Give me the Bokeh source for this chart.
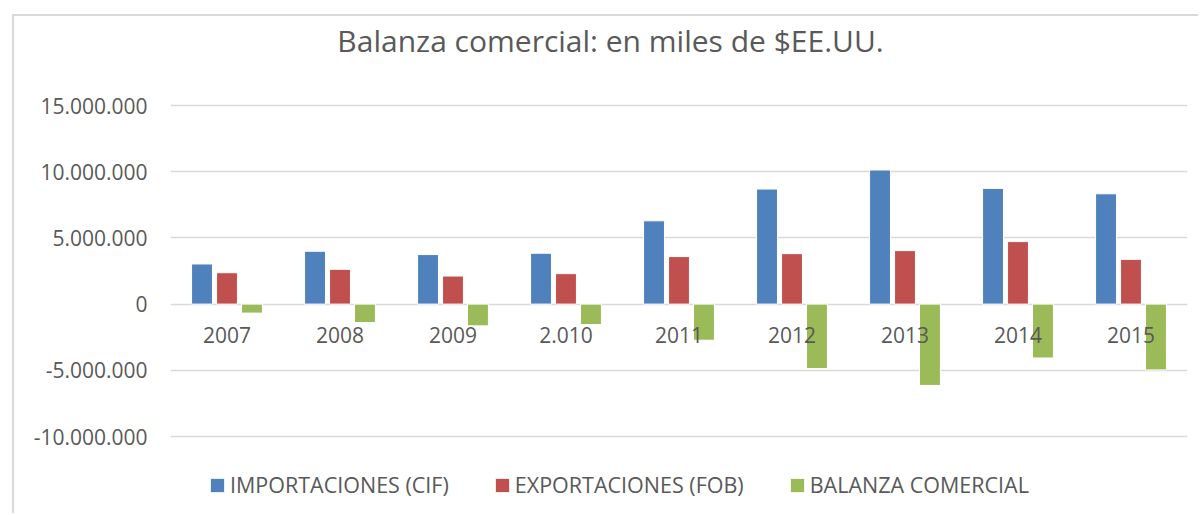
from bokeh.plotting import figure
from bokeh.models import FactorRange, Range1d, Legend, LegendItem, FixedTicker, ColumnDataSource, Label
from bokeh.core.properties import value
from bokeh.transform import dodge
from bokeh.embed import file_html
from bokeh.resources import INLINE

years = ["2007", "2008", "2009", "2.010", "2011", "2012", "2013", "2014", "2015"]
importaciones = [3030000, 3990000, 3740000, 3840000, 6290000, 8690000, 10130000, 8740000, 8330000]
exportaciones = [2370000, 2630000, 2120000, 2300000, 3590000, 3810000, 4040000, 4720000, 3380000]
balanza = [-680000, -1390000, -1640000, -1540000, -2730000, -4870000, -6140000, -4070000, -4970000]
series_names = ["IMPORTACIONES (CIF)", "EXPORTACIONES (FOB)", "BALANZA COMERCIAL"]
series_colors = ["#4F81BD", "#C0504D", "#9BBB59"]
y_ticks = [-10000000, -5000000, 0, 5000000, 10000000, 15000000]
y_tick_labels = ["-10.000.000", "-5.000.000", "0", "5.000.000", "10.000.000", "15.000.000"]
title_text = "Balanza comercial: en miles de $EE.UU."

FONT = "Open Sans"
TXT = "#595959"

# layout (pixels)
W, H = 1186, 499
LEFT, RIGHT = 156, 13
TOP = 89            # canvas y of the top (15M) gridline
AXIS_PX = 331       # pixels from top tick to bottom tick
TITLE_Y = 24        # canvas y of title centre
TITLE_X = 596       # canvas x of title centre
span = y_ticks[-1] - y_ticks[0]
per_px = span / AXIS_PX
# frame covers the whole canvas height so title and legend can sit inside it
y_end = y_ticks[-1] + TOP * per_px
y_start = y_ticks[0] - (H - TOP - AXIS_PX) * per_px
frame_w = W - LEFT - RIGHT
title_xdata = (TITLE_X - LEFT) / frame_w * len(years)
title_ydata = y_end - TITLE_Y * per_px

p = figure(x_range=FactorRange(*years), y_range=Range1d(y_start, y_end),
           width=W, height=H, output_backend="svg", toolbar_location=None, title=None,
           min_border_left=LEFT, min_border_right=RIGHT, min_border_top=0, min_border_bottom=0,
           margin=(14, 0, 0, 12))
p.styles = {"border-top": "2px solid #d9d9d9", "border-left": "2px solid #d9d9d9"}
p.outline_line_color = None
p.background_fill_color = "white"
p.border_fill_color = "white"

zeros = [0] * len(years)
src = ColumnDataSource(dict(years=years, imp=importaciones, exp=exportaciones, bal=balanza, zero=zeros))

w = 0.185
r1 = p.vbar(x=dodge("years", -0.221, range=p.x_range), top="imp", bottom="zero", width=w, source=src,
            fill_color=series_colors[0], line_color="white", line_width=1)
r2 = p.vbar(x=dodge("years", 0.0, range=p.x_range), top="exp", bottom="zero", width=w, source=src,
            fill_color=series_colors[1], line_color="white", line_width=1)
r3 = p.vbar(x=dodge("years", 0.221, range=p.x_range), top="zero", bottom="bal", width=w, source=src,
            fill_color=series_colors[2], line_color="white", line_width=1)

# category labels drawn at the zero line
p.text(x="years", y="zero", text="years", source=src, y_offset=31,
       text_align="center", text_baseline="middle",
       text_font=value(FONT), text_font_size="21px", text_color=TXT)

# y axis
p.yaxis.ticker = FixedTicker(ticks=y_ticks)
p.yaxis.major_label_overrides = {t: l for t, l in zip(y_ticks, y_tick_labels)}
p.yaxis.axis_line_color = None
p.yaxis.major_tick_line_color = None
p.yaxis.minor_tick_line_color = None
p.yaxis.major_tick_out = 0
p.yaxis.major_label_standoff = 23
p.yaxis.major_label_text_font = FONT
p.yaxis.major_label_text_font_size = "21px"
p.yaxis.major_label_text_color = TXT

p.ygrid.ticker = FixedTicker(ticks=y_ticks)
p.ygrid.grid_line_color = "#d9d9d9"
p.ygrid.grid_line_width = 1.5
p.xgrid.grid_line_color = None
p.xaxis.visible = False

# title
p.add_layout(Label(x=title_xdata, y=title_ydata, text=title_text, text_align="center",
                   text_baseline="middle", text_font=FONT, text_font_size="30px",
                   text_color=TXT))

legend = Legend(items=[LegendItem(label=series_names[0], renderers=[r1]),
                       LegendItem(label=series_names[1], renderers=[r2]),
                       LegendItem(label=series_names[2], renderers=[r3])],
                orientation="horizontal", location=(38, 16), margin=0, padding=0,
                spacing=44, glyph_width=18, glyph_height=18, label_standoff=4,
                label_text_font=FONT, label_text_font_size="21.5px", label_text_color=TXT,
                border_line_color=None, background_fill_alpha=0)
p.add_layout(legend)

open("out.html", "w").write(file_html(p, INLINE))
